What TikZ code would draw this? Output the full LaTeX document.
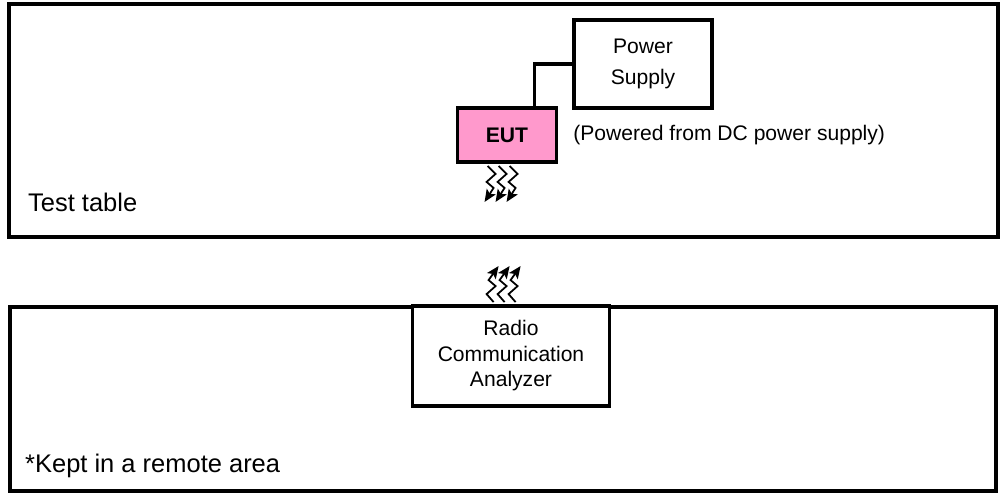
\documentclass[tikz,border=0pt]{standalone}
\usepackage{fontspec}
\setmainfont{Liberation Sans}
\usetikzlibrary{positioning,arrows.meta,calc}

\begin{document}
\begin{tikzpicture}[x=0.02cm,y=-0.02cm,
    area/.style={line width=2.2pt},
    unit/.style={draw,line width=2.2pt,align=center,inner sep=0pt,font=\fontsize{12}{18}\selectfont},
    wave/.style={line width=1pt,-{Stealth[length=7pt,width=6pt,inset=1.5pt]}}]

    % Fix the size of the page
    \useasboundingbox (0,0) rectangle (1003,496);

    % Draw the test table and the remote area
    \draw[area] (9,4) rectangle (998,237);
    \draw[area] (10,307) rectangle (996,491);
    \node[font=\fontsize{14.5}{17}\selectfont,anchor=west] (table) at (22,202) {Test table};
    \node[font=\fontsize{14.5}{17}\selectfont,anchor=west] (remote) at (19,466) {*Kept in a remote area};

    % Place the boxes
    \node[unit,minimum width=2.76cm,minimum height=1.76cm] (ps) at (643,64) {Power\\Supply};
    \node[unit,fill={rgb,255:red,255;green,153;blue,204},minimum width=1.98cm,minimum height=1.08cm,font=\fontsize{12}{14}\selectfont\bfseries] (eut) at (507,135) {EUT};
    \node[unit,fill=white,minimum width=3.94cm,minimum height=2.0cm,font=\fontsize{12}{14.5}\selectfont] (rca) at (511,356) {Radio\\Communication\\Analyzer};
    \node[font=\fontsize{12}{14}\selectfont,anchor=west,inner sep=0pt] (note) at (573,135) {(Powered from DC power supply)};

    % Connect the EUT to the power supply
    \draw[line width=2.2pt] ([xshift=-0.48cm]eut.north east) |- (ps.west);

    % Draw the radio links
    \foreach \dx in {0,11,22} {
        \coordinate (t\dx) at ($(eut.south west)+(32+\dx,2)$);
        \draw[wave] (t\dx) -- ++(8,8) -- ++(-9,8) -- ++(7,6) -- ++(-9,14);
        \coordinate (b\dx) at ($(rca.north west)+(83+\dx,-2)$);
        \draw[wave] (b\dx) -- ++(-7,-8) -- ++(9,-8) -- ++(-7,-6) -- ++(10,-14);
    }

\end{tikzpicture}
\end{document}
